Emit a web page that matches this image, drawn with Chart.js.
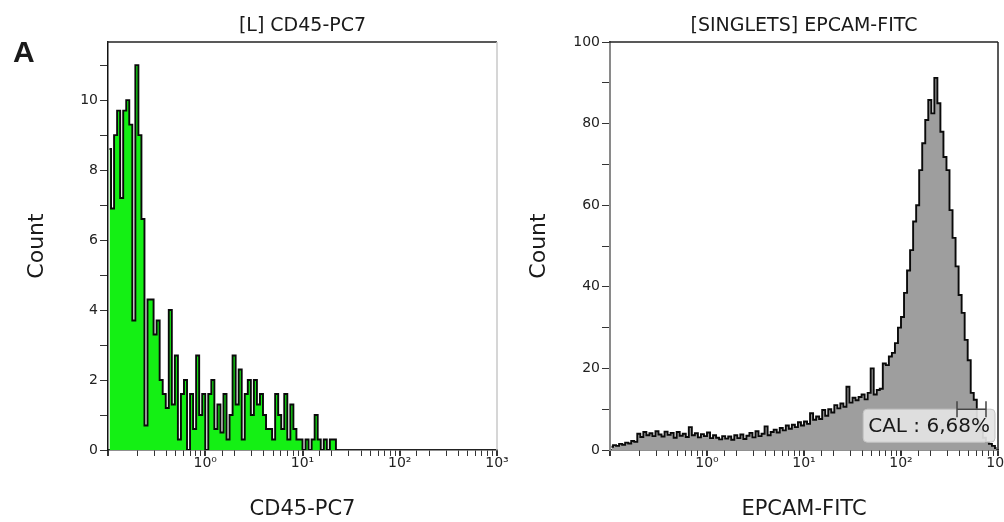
<!DOCTYPE html>
<html>
<head>
<meta charset="utf-8">
<script src="https://cdn.jsdelivr.net/npm/chart.js@4/dist/chart.umd.min.js"></script>
<style>
	body { margin: 0; background: #fff; width: 1004px; height: 522px; overflow: hidden; position: relative; }
	.panel { position: absolute; top: 0; height: 522px; }
</style>
</head>
<body>
<div class="panel" style="left:502px;width:502px"><canvas id="epcam" width="502" height="522"></canvas></div>
<div class="panel" style="left:0;width:530px"><canvas id="cd45" width="530" height="522"></canvas></div>
<script>
// histogram binning: log scale from 10^-1, 32 bins per decade
const firstExp = -1;
const binsPerDecade = 32;

// [L] CD45-PC7 counts per bin
const cd45Counts = [
	8.6, 6.9, 9.0, 9.7, 7.2, 9.7, 10.0, 9.3, 3.7, 11.0, 9.0, 6.6, 0.7, 4.3, 4.3, 3.3,
	3.7, 2.0, 1.6, 1.2, 4.0, 1.3, 2.7, 0.3, 1.6, 2.0, 0.0, 1.6, 0.6, 2.7, 1.0, 1.6,
	0.0, 1.6, 2.0, 0.6, 1.3, 0.5, 1.6, 0.3, 1.0, 2.7, 1.3, 2.3, 0.3, 1.6, 2.0, 1.0,
	2.0, 1.3, 1.6, 1.0, 0.6, 0.6, 0.3, 1.6, 1.0, 0.6, 1.6, 0.3, 1.3, 0.6, 0.3, 0.3,
	0.0, 0.3, 0.0, 0.3, 1.0, 0.3, 0.0, 0.3, 0.0, 0.3, 0.3, 0.0
];

// [SINGLETS] EPCAM-FITC counts per bin
const epcamCounts = [
	0.8, 1.2, 1.0, 1.5, 1.3, 1.8, 1.6, 2.2, 2.0, 4.0, 3.2, 4.4, 3.6, 4.1, 3.4, 4.6,
	3.8, 3.3, 4.5, 3.7, 4.2, 3.0, 4.4, 3.5, 4.0, 3.2, 5.6, 3.6, 4.1, 3.1, 3.9, 3.4,
	4.3, 2.9, 3.6, 3.0, 2.6, 3.4, 2.8, 3.3, 2.5, 3.6, 2.9, 3.8, 2.7, 3.5, 4.2, 3.1,
	4.6, 3.4, 4.0, 5.8, 3.6, 4.4, 5.0, 4.3, 5.4, 4.8, 6.0, 5.2, 6.2, 5.6, 6.8, 6.0,
	7.0, 6.4, 9.0, 7.4, 8.2, 7.6, 9.8, 8.4, 10.0, 9.2, 11.0, 10.2, 11.4, 10.6, 15.5, 11.6,
	12.8, 12.2, 13.0, 13.6, 12.4, 14.0, 20.0, 13.6, 14.7, 15.0, 21.2, 20.8, 22.9, 23.8, 26.2, 30.0,
	32.6, 38.5, 44.0, 49.0, 56.0, 60.0, 68.6, 75.2, 80.9, 85.8, 82.5, 91.2, 85.0, 78.0, 71.8, 68.6,
	58.8, 52.0, 45.0, 38.0, 33.6, 27.0, 22.0, 14.0, 12.3, 7.0, 5.0, 3.0, 2.0, 1.5, 1.0, 0.5
];

// CAL gate on the EPCAM histogram
const gateRange = [378, 752];
const gateLevel = 10;
const gateLabel = 'CAL : 6,68%';

const sup = { 0: '\u2070', 1: '\u00b9', 2: '\u00b2', 3: '\u00b3' };

function binPoints( counts ) {
	return counts.map( ( c, i ) => ( { x: Math.pow( 10, firstExp + ( i + 0.5 ) / binsPerDecade ), y: c } ) );
}

function isDecade( v ) {
	const e = Math.log10( v );
	return Math.abs( e - Math.round( e ) ) < 1e-6;
}

// top / right frame, chart title and panel letter
const frame = {
	id: 'frame',
	afterDraw( chart, args, opts ) {
		const { ctx, chartArea: a } = chart;
		ctx.save();
		ctx.lineWidth = 1.5;
		ctx.strokeStyle = '#222';
		ctx.beginPath();
		ctx.moveTo( a.left - 1, a.top );
		ctx.lineTo( a.right, a.top );
		ctx.stroke();
		ctx.strokeStyle = opts.rightColor;
		ctx.beginPath();
		ctx.moveTo( a.right, a.top );
		ctx.lineTo( a.right, a.bottom );
		ctx.stroke();

		ctx.fillStyle = '#1a1a1a';
		ctx.font = '19px "DejaVu Sans"';
		ctx.textAlign = 'center';
		ctx.textBaseline = 'middle';
		ctx.fillText( opts.title, ( a.left + a.right ) / 2, 26 );
		if ( opts.panel ) {
			ctx.font = 'bold 30px "Liberation Sans"';
			ctx.textAlign = 'left';
			ctx.textBaseline = 'alphabetic';
			ctx.fillText( opts.panel, 13, 62 );
		}
		ctx.restore();
	}
};

// gate bracket with its label box
const gate = {
	id: 'gate',
	afterDatasetsDraw( chart, args, opts ) {
		if ( !opts.label ) return;
		const { ctx, chartArea: a } = chart;
		const xs = chart.scales.x, ys = chart.scales.y;
		const x0 = xs.getPixelForValue( opts.range[0] );
		const x1 = xs.getPixelForValue( opts.range[1] );
		const yy = ys.getPixelForValue( opts.level );

		ctx.save();
		ctx.font = '20px "DejaVu Sans"';
		const w = ctx.measureText( opts.label ).width + 10;
		const bx = a.right - 3 - w, by = yy, bh = 33;
		ctx.beginPath();
		ctx.roundRect( bx, by, w, bh, 4 );
		ctx.fillStyle = 'rgba(228,228,228,0.92)';
		ctx.fill();
		ctx.strokeStyle = '#c4c4c4';
		ctx.lineWidth = 1;
		ctx.stroke();
		ctx.fillStyle = '#1a1a1a';
		ctx.textAlign = 'center';
		ctx.textBaseline = 'middle';
		ctx.fillText( opts.label, bx + w / 2, by + bh / 2 + 1 );

		ctx.strokeStyle = '#444';
		ctx.lineWidth = 1.5;
		ctx.beginPath();
		ctx.moveTo( x0, yy );
		ctx.lineTo( x1, yy );
		ctx.moveTo( x0, yy - 8 );
		ctx.lineTo( x0, yy + 8 );
		ctx.moveTo( x1, yy - 8 );
		ctx.lineTo( x1, yy + 8 );
		ctx.stroke();
		ctx.restore();
	}
};

function histogram( id, cfg ) {
	new Chart( document.getElementById( id ), {
		type: 'line',
		data: {
			datasets: [
				{
					data: binPoints( cfg.counts ),
					stepped: 'middle',
					fill: 'origin',
					backgroundColor: cfg.fill,
					borderColor: '#0a0a0a',
					borderWidth: 1.9,
					pointRadius: 0
				}
			]
		},
		options: {
			responsive: false,
			animation: false,
			layout: { padding: { top: 42, right: cfg.padRight, left: 0, bottom: 0 } },
			plugins: {
				legend: { display: false },
				tooltip: { enabled: false },
				frame: { title: cfg.title, panel: cfg.panel, rightColor: cfg.rightColor },
				gate: cfg.gate || {}
			},
			scales: {
				x: {
					type: 'logarithmic',
					min: 0.1,
					max: 1000,
					border: { color: '#222', width: 1.5 },
					grid: {
						drawOnChartArea: false,
						tickLength: 6,
						color: '#333',
						lineWidth: c => isDecade( c.tick.value ) ? 2 : 1
					},
					ticks: {
						autoSkip: false,
						maxRotation: 0,
						padding: -1,
						color: '#222',
						font: { family: 'DejaVu Sans', size: 14 },
						callback: v => {
							if ( !isDecade( v ) ) return '';
							const e = Math.round( Math.log10( v ) );
							return e >= 0 ? '10' + sup[e] : '';
						}
					},
					title: {
						display: true,
						text: cfg.xTitle,
						color: '#1a1a1a',
						font: { family: 'DejaVu Sans', size: 21 },
						padding: { top: 0, bottom: 0 }
					},
					afterFit: s => {
						s.height = 72;
						s.paddingLeft = 0;
						s.paddingRight = 0;
					}
				},
				y: {
					min: 0,
					max: cfg.yMax,
					border: { color: cfg.yAxisColor, width: cfg.yAxisWidth },
					grid: { drawOnChartArea: false, tickLength: 8, color: '#333' },
					ticks: {
						stepSize: cfg.yStep,
						includeBounds: false,
						padding: 2,
						color: '#222',
						font: { family: 'DejaVu Sans', size: 14 },
						callback: v => v % cfg.yLabelEvery === 0 ? v : ''
					},
					title: {
						display: true,
						text: 'Count',
						color: '#1a1a1a',
						font: { family: 'DejaVu Sans', size: 22 },
						padding: { top: 24, bottom: 0 }
					},
					afterFit: s => { s.width = 108; }
				}
			}
		},
		plugins: [ frame, gate ]
	} );
}

histogram( 'cd45', {
	counts: cd45Counts,
	fill: '#14f014',
	title: '[L] CD45-PC7',
	panel: 'A',
	xTitle: 'CD45-PC7',
	yMax: 11.66,
	yStep: 1,
	yLabelEvery: 2,
	yAxisColor: '#111',
	yAxisWidth: 1.5,
	rightColor: '#c8c8c8',
	padRight: 33
} );

histogram( 'epcam', {
	counts: epcamCounts,
	fill: '#9e9e9e',
	title: '[SINGLETS] EPCAM-FITC',
	xTitle: 'EPCAM-FITC',
	yMax: 100,
	yStep: 10,
	yLabelEvery: 20,
	yAxisColor: '#8a8a8a',
	yAxisWidth: 2,
	rightColor: '#222',
	padRight: 6,
	gate: { range: gateRange, level: gateLevel, label: gateLabel }
} );
</script>
</body>
</html>
